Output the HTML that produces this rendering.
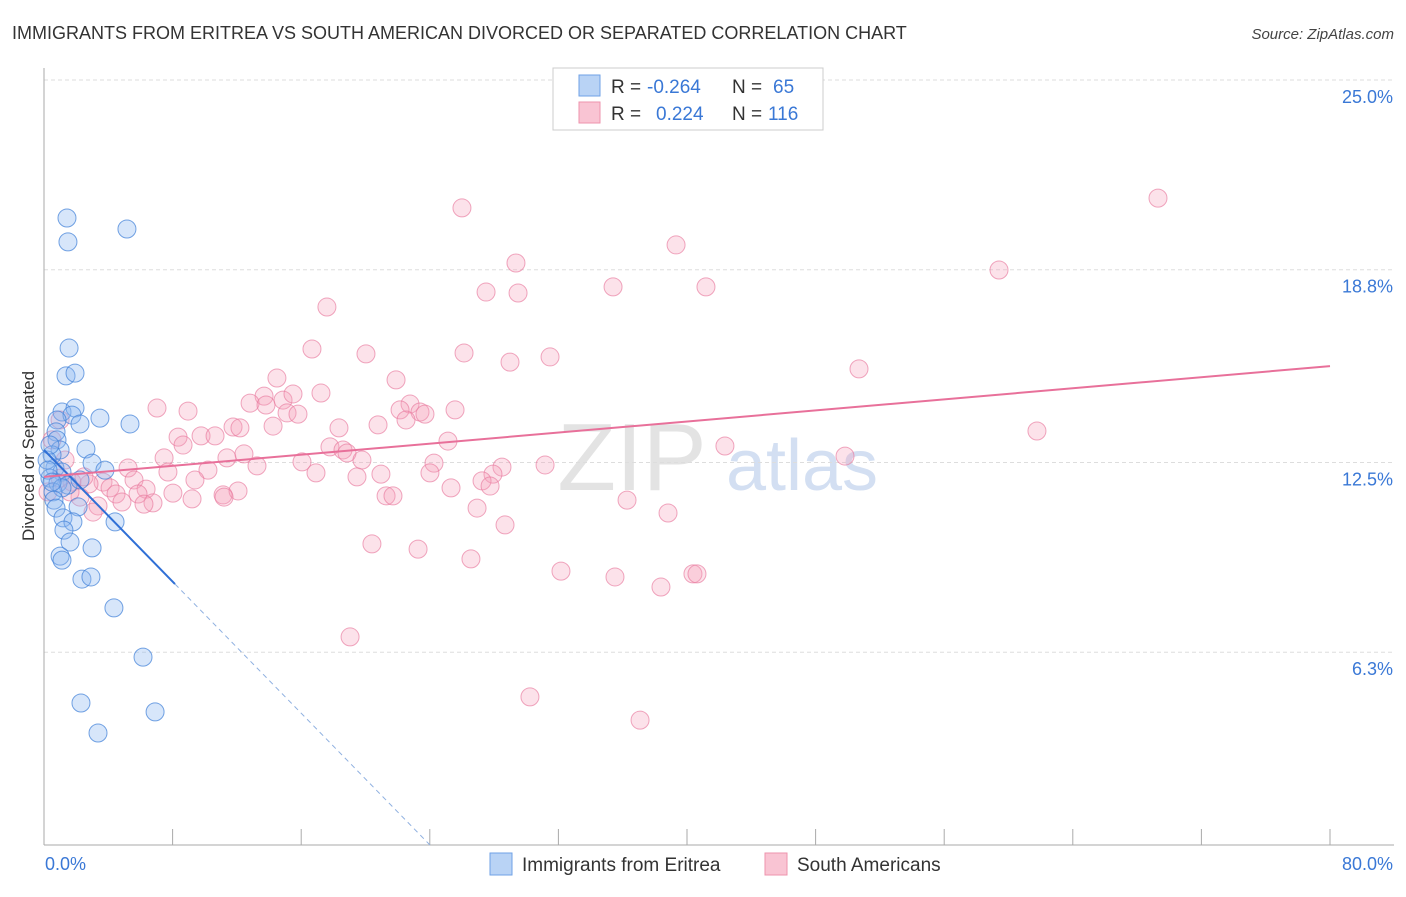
<!DOCTYPE html>
<html><head><meta charset="utf-8"><style>
body{margin:0;background:#fff;font-family:"Liberation Sans",sans-serif;}
svg text{font-family:"Liberation Sans",sans-serif;}
</style></head><body>
<svg id="chart" width="1406" height="892" viewBox="0 0 1406 892" xmlns="http://www.w3.org/2000/svg">
<text x="12" y="39" font-size="18" fill="#333">IMMIGRANTS FROM ERITREA VS SOUTH AMERICAN DIVORCED OR SEPARATED CORRELATION CHART</text>
<text x="1394" y="39" font-size="15" fill="#444" text-anchor="end" font-style="italic">Source: ZipAtlas.com</text>
<g>
<text x="632" y="490" font-size="96" fill="#ddd" text-anchor="middle" font-family="Liberation Serif" opacity="0.8">ZIP</text>
<text x="802" y="490" font-size="72" fill="#c9d8ef" text-anchor="middle" opacity="0.8">atlas</text>
</g>
<g id="grid"></g>
<g id="axes"></g>
<g id="pts"></g>
<g id="trend"></g>
<text transform="translate(34,456) rotate(-90)" font-size="17" fill="#333" text-anchor="middle">Divorced or Separated</text>
<g>
<rect x="553" y="68" width="270" height="62" fill="#fff" stroke="#ccc"/>
<rect x="579" y="75" width="21" height="21" fill="#b9d3f5" stroke="#6fa1e6"/>
<rect x="579" y="102" width="21" height="21" fill="#f9c4d3" stroke="#ee93ad"/>
<text x="611" y="93" font-size="19" fill="#333">R =</text><text x="647" y="93" font-size="19" fill="#3a78d6">-0.264</text>
<text x="732" y="93" font-size="19" fill="#333">N =</text><text x="773" y="93" font-size="19" fill="#3a78d6">65</text>
<text x="611" y="120" font-size="19" fill="#333">R =</text><text x="656" y="120" font-size="19" fill="#3a78d6">0.224</text>
<text x="732" y="120" font-size="19" fill="#333">N =</text><text x="768" y="120" font-size="19" fill="#3a78d6">116</text>
</g>
<g>
<rect x="490" y="853" width="22" height="22" fill="#b9d3f5" stroke="#6fa1e6"/>
<text x="522" y="871" font-size="19" fill="#333">Immigrants from Eritrea</text>
<rect x="765" y="853" width="22" height="22" fill="#f9c4d3" stroke="#ee93ad"/>
<text x="797" y="871" font-size="19" fill="#333">South Americans</text>
</g>
</svg>
<script>
const yTicks=[25.0,18.8,12.5,6.3];
const yTickLabels=["25.0%","18.8%","12.5%","6.3%"];
const xTickLabels=["0.0%","80.0%"];
const blueX=[1.43,1.49,5.16,1.56,1.37,1.93,1.12,1.93,1.74,3.48,5.35,0.81,2.24,0.75,0.81,1.0,0.5,2.61,2.99,3.79,0.68,1.12,0.37,0.87,1.49,2.24,0.56,1.12,0.62,2.12,0.75,1.18,1.80,4.42,1.24,1.62,2.99,1.0,1.12,2.36,2.92,4.35,6.16,2.30,6.91,3.36,0.19,0.37,0.25,0.5];
const blueY=[20.49,19.71,20.13,16.24,15.33,15.42,14.15,14.28,14.05,13.95,13.76,13.89,13.76,13.50,13.24,12.91,12.75,12.94,12.48,12.25,12.32,12.19,11.99,11.83,11.76,11.93,11.54,11.67,11.27,11.05,11.01,10.69,10.56,10.56,10.29,9.90,9.71,9.44,9.31,8.69,8.76,7.75,6.14,4.64,4.35,3.66,12.58,13.07,12.25,11.86];
const pinkX=[69.30,26.00,39.32,29.36,59.41,27.50,29.49,35.40,41.18,17.60,16.67,20.03,26.13,28.99,31.48,50.70,14.49,21.90,13.69,14.87,15.49,17.23,12.82,13.81,22.77,7.03,8.96,15.12,15.80,22.15,23.39,23.70,25.57,18.35,11.76,12.19,14.25,20.78,22.52,61.77,8.34,9.77,10.64,8.65,17.79,18.60,18.85,25.13,42.36,49.83,7.47,11.38,12.44,16.05,19.78,24.26,31.17,13.25,10.20,5.23,7.71,16.92,20.96,28.49,24.01,27.93,19.47,5.60,9.39,27.25,3.67,1.74,2.80,4.11,4.48,6.35,8.02,9.21,11.14,12.07,5.85,25.32,27.75,21.28,21.71,6.78,4.85,3.36,2.24,3.05,6.22,11.20,36.27,26.94,38.82,28.68,20.40,23.27,26.56,32.16,35.52,40.37,40.62,38.38,19.04,30.23,37.08,1.0,0.5,1.31,1.0,1.62,0.25,2.49];
const pinkY=[21.14,20.82,19.61,19.02,18.79,18.07,18.04,18.24,18.24,17.58,16.21,16.05,16.08,15.78,15.95,15.56,15.26,15.20,14.67,14.54,14.74,14.77,14.44,14.38,14.41,14.28,14.18,14.12,14.08,14.22,14.15,14.08,14.22,13.63,13.66,13.63,13.69,13.73,13.89,13.53,13.33,13.37,13.37,13.07,13.01,12.91,12.81,13.20,13.04,12.71,12.65,12.65,12.78,12.52,12.58,12.48,12.42,12.39,12.25,12.32,12.19,12.16,12.12,12.35,12.16,12.12,12.03,11.93,11.93,11.90,11.86,11.86,11.80,11.67,11.47,11.63,11.50,11.31,11.44,11.57,11.47,11.67,11.73,11.41,11.41,11.18,11.21,11.08,11.37,10.88,11.14,11.37,11.27,11.01,10.85,10.46,9.84,9.67,9.35,8.95,8.76,8.86,8.86,8.43,6.80,4.84,4.08,13.89,13.24,12.58,11.99,11.54,11.54,12.03];
const blueTrend=[12.91,-0.5377]; // intercept, slope
const blueSolidEnd=8.15;
const pinkTrend=[12.03,0.04525];

const NS="http://www.w3.org/2000/svg";
const sx=v=>44+v*16.075;
const sy=v=>80+(25-v)*30.6;
function mk(tag,parent,attrs){const e=document.createElementNS(NS,tag);for(const k in attrs)e.setAttribute(k,attrs[k]);parent.appendChild(e);return e;}
const grid=document.getElementById('grid'),axes=document.getElementById('axes'),pts=document.getElementById('pts'),trend=document.getElementById('trend');
yTicks.forEach((t,i)=>{
 const l=mk('line',grid,{x1:44,x2:1394,y1:sy(t),y2:sy(t),stroke:'#ddd','stroke-dasharray':'4,3'});
 
 
 const tx=mk('text',axes,{x:1393,y:sy(t)+23,'font-size':18,fill:'#3a78d6','text-anchor':'end'});
 tx.textContent=yTickLabels[i];
 
 
});
const ya=mk('line',axes,{x1:44,x2:44,y1:68,y2:845,stroke:'#aaa'});


const xa=mk('line',axes,{x1:44,x2:1394,y1:845,y2:845,stroke:'#aaa'});


for(let v=8;v<=80;v+=8){
 const t=mk('line',axes,{x1:sx(v),x2:sx(v),y1:829,y2:845,stroke:'#aaa'});
 
 
}
const xl0=mk('text',axes,{x:45,y:870,'font-size':18,fill:'#3a78d6'});xl0.textContent=xTickLabels[0];


const xl1=mk('text',axes,{x:1393,y:870,'font-size':18,fill:'#3a78d6','text-anchor':'end'});xl1.textContent=xTickLabels[1];


pinkX.forEach((x,i)=>{
 const c=mk('circle',pts,{cx:sx(x),cy:sy(pinkY[i]),r:9,fill:'rgba(244,160,186,0.3)',stroke:'rgba(232,120,156,0.65)','stroke-width':1});
 
 
});
blueX.forEach((x,i)=>{
 const c=mk('circle',pts,{cx:sx(x),cy:sy(blueY[i]),r:9,fill:'rgba(140,184,240,0.35)',stroke:'rgba(60,125,215,0.7)','stroke-width':1});
 
 
});
const bf=x=>blueTrend[0]+blueTrend[1]*x;
const bEnd=-blueTrend[0]/blueTrend[1];
const b1=mk('line',trend,{x1:sx(0),y1:sy(bf(0)),x2:sx(blueSolidEnd),y2:sy(bf(blueSolidEnd)),stroke:'#2f6fd6','stroke-width':2});


const b2=mk('line',trend,{x1:sx(blueSolidEnd),y1:sy(bf(blueSolidEnd)),x2:sx(bEnd),y2:sy(0),stroke:'#8fb0e0','stroke-width':1,'stroke-dasharray':'5,4'});


const pf=x=>pinkTrend[0]+pinkTrend[1]*x;
const p1=mk('line',trend,{x1:sx(0),y1:sy(pf(0)),x2:sx(80),y2:sy(pf(80)),stroke:'#e8709a','stroke-width':2});


</script>
</body></html>
